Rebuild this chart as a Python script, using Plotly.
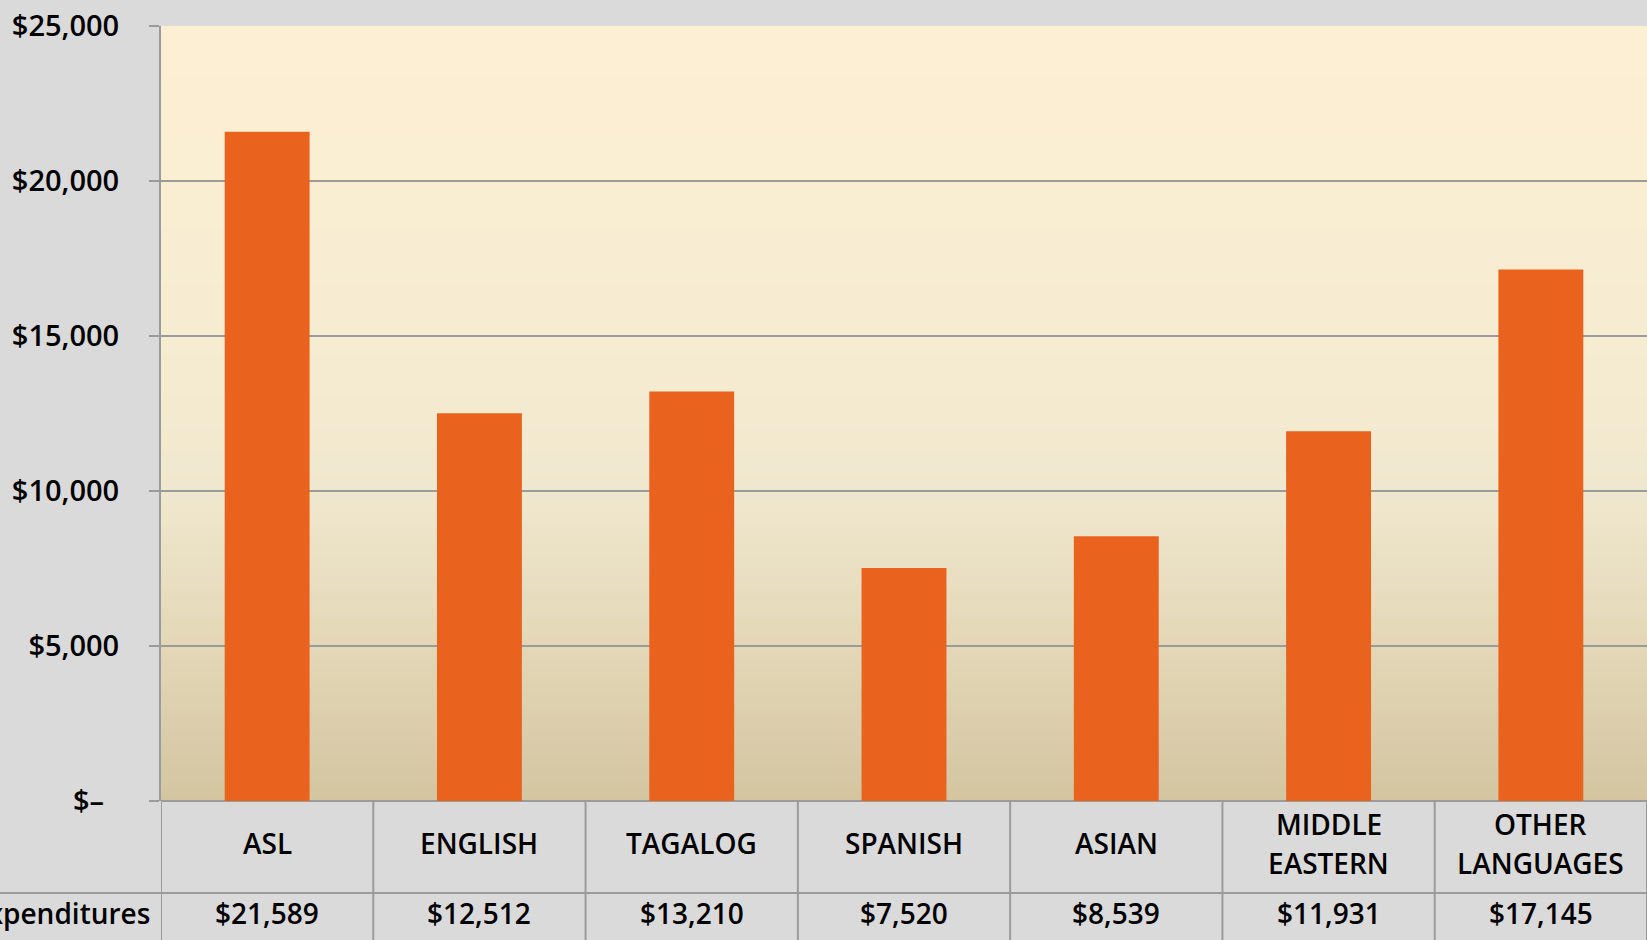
import plotly.graph_objects as go

categories = ["ASL", "ENGLISH", "TAGALOG", "SPANISH", "ASIAN", "MIDDLE<br>EASTERN", "OTHER<br>LANGUAGES"]
expenditures = [21589, 12512, 13210, 7520, 8539, 11931, 17145]
value_labels = ["$21,589", "$12,512", "$13,210", "$7,520", "$8,539", "$11,931", "$17,145"]
tick_vals = [0, 5000, 10000, 15000, 20000, 25000]
tick_text = ["$\u2013\u00a0\u00a0", "$5,000", "$10,000", "$15,000", "$20,000", "$25,000"]
row_label = "Expenditures"

FONT = "Open Sans"
WEIGHT = 600
GRID = "#9b9b9b"
BAR = "#E9631E"
BG = "#DADADA"

W, H = 1647, 940
ML, MT, MB = 161, 26, 139
PW, PH = W - ML, H - MT - MB

# background gradient stops (fraction from bottom, color)
stops = [(0.0, (212, 197, 161)), (0.2, (227, 215, 183)), (0.4, (240, 232, 206)),
         (0.6, (246, 236, 210)), (1.0, (253, 239, 211))]

def grad(f):
    for (f0, c0), (f1, c1) in zip(stops[:-1], stops[1:]):
        if f0 <= f <= f1:
            t = (f - f0) / (f1 - f0)
            return "rgb(%d,%d,%d)" % tuple(round(a + (b - a) * t) for a, b in zip(c0, c1))
    return "rgb(%d,%d,%d)" % stops[-1][1]

ymax = tick_vals[-1]
shapes = []
N = 120
for k in range(N):
    f = (k + 0.5) / N
    shapes.append(dict(type="rect", xref="paper", yref="y", x0=0, x1=1,
                       y0=ymax * k / N, y1=ymax * (k + 1) / N + ymax * 0.002,
                       fillcolor=grad(f), line=dict(width=0), layer="below"))

n = len(categories)
row1_bottom = -92 / PH
table_bottom = -(MB + 5) / PH
shapes.append(dict(type="line", xref="paper", yref="paper", x0=-ML / PW, x1=1.01,
                   y0=row1_bottom, y1=row1_bottom, line=dict(color=GRID, width=2)))
for i in range(n + 1):
    xv = i - 0.5
    shapes.append(dict(type="line", xref="x", yref="paper", x0=xv, x1=xv,
                       y0=0, y1=table_bottom, line=dict(color=GRID, width=2)))

tfont = dict(family=FONT, size=28, color="black", weight=WEIGHT)
LINE_GAP = 39
annotations = []
for i, c in enumerate(categories):
    lines = c.split("<br>")
    m = len(lines)
    for j, ln in enumerate(lines):
        annotations.append(dict(x=i, xref="x", y=-42 / PH, yref="paper", text=ln,
                                yshift=-(j - (m - 1) / 2) * LINE_GAP,
                                showarrow=False, xanchor="center", yanchor="middle", font=tfont))
    annotations.append(dict(x=i, xref="x", y=-112 / PH, yref="paper", text=value_labels[i],
                            showarrow=False, xanchor="center", yanchor="middle", font=tfont))
annotations.append(dict(x=0, xref="paper", xshift=-9, y=-112 / PH, yref="paper", text=row_label,
                        showarrow=False, xanchor="right", yanchor="middle", font=tfont))

fig = go.Figure(go.Bar(x=list(range(n)), y=expenditures, width=0.4,
                       marker=dict(color=BAR, line=dict(width=0)), hoverinfo="skip"))

fig.update_layout(
    width=W, height=H,
    margin=dict(l=ML, r=0, t=MT, b=MB, pad=0),
    paper_bgcolor=BG, plot_bgcolor="rgba(0,0,0,0)",
    showlegend=False,
    shapes=shapes, annotations=annotations,
    xaxis=dict(range=[-0.5, n - 0.5], showticklabels=False, showgrid=False,
               zeroline=False, showline=False, ticks="", fixedrange=True),
    yaxis=dict(range=[0, ymax], tickvals=tick_vals, ticktext=tick_text,
               showgrid=True, gridcolor=GRID, gridwidth=2,
               zeroline=True, zerolinecolor=GRID, zerolinewidth=2,
               showline=True, linecolor=GRID, linewidth=2,
               ticks="outside", ticklen=10, tickwidth=2, tickcolor=GRID,
               ticklabelstandoff=24,
               tickfont=dict(family=FONT, size=29, color="black", weight=WEIGHT),
               fixedrange=True),
)

fig.write_html("out.html", config={"displayModeBar": False},
               post_script="document.body.style.margin='0px';document.body.style.overflow='hidden';")
